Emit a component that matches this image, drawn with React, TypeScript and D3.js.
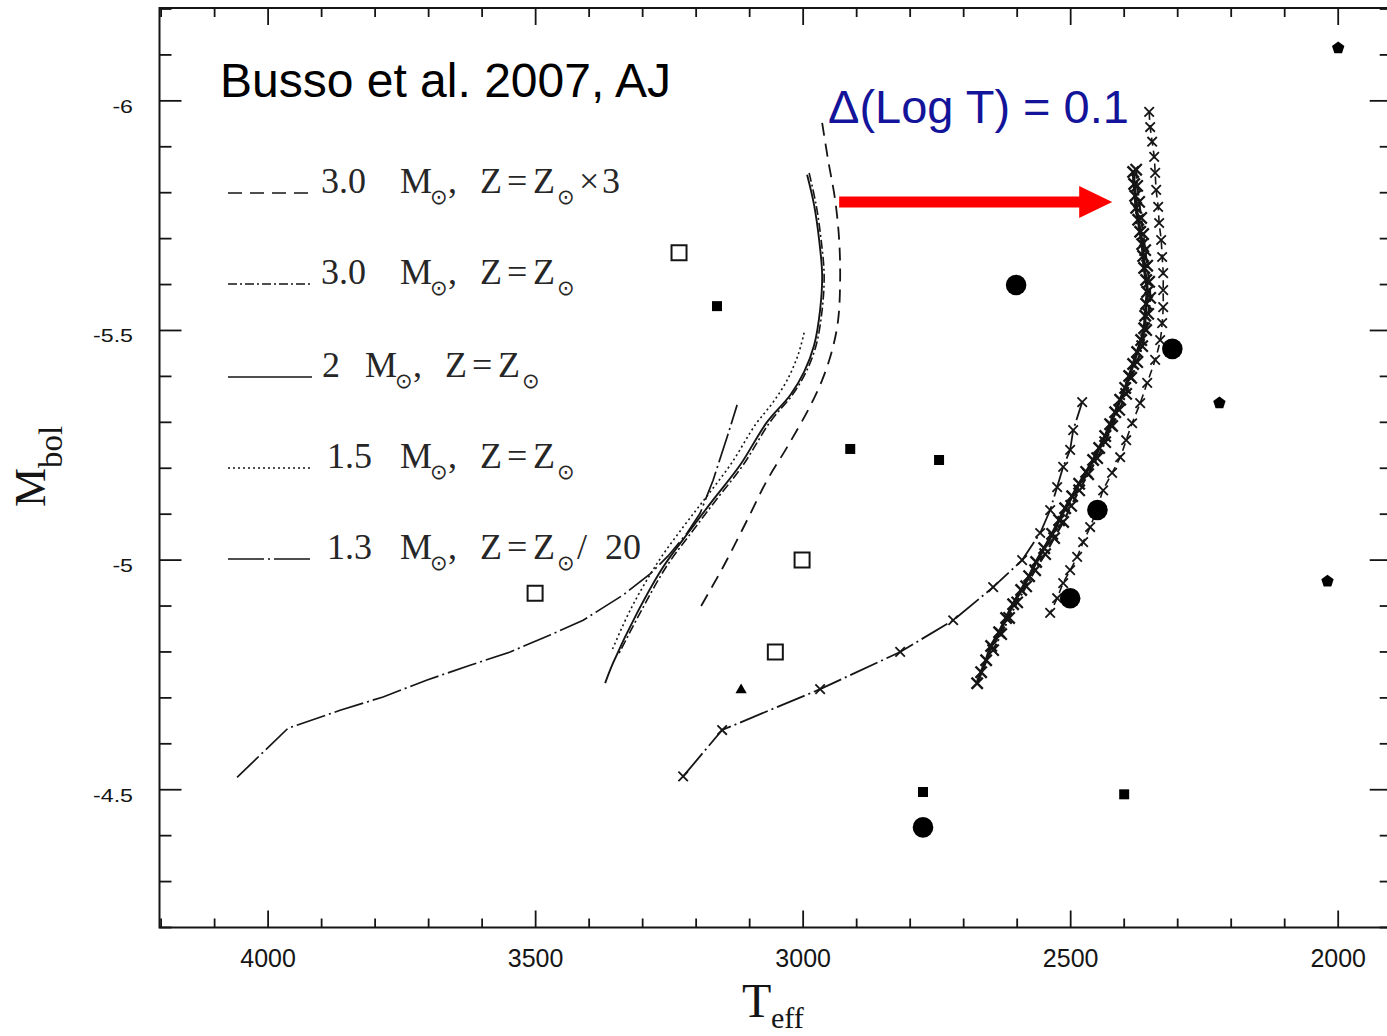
import {
  curveCatmullRom,
  curveLinear,
  curveLinearClosed,
  line,
  lineRadial,
  range,
  scaleLinear,
  symbol,
  symbolSquare,
  symbolTimes,
  symbolTriangle,
} from 'd3'

type Point = [number, number] // [Teff, Mbol]

const chartWidth = 1387
const chartHeight = 1036

// model tracks (left group)
const track3Z3: Point[] = [
  [2964.5, -5.952], [2953.3, -5.871], [2940.2, -5.784], [2932.7, -5.697], [2930.9, -5.61],
  [2934.6, -5.523], [2945.8, -5.457], [2964.5, -5.392], [2990.7, -5.327], [3029.9, -5.246],
  [3067.3, -5.174], [3104.7, -5.087], [3149.6, -4.985], [3198.2, -4.885],
]

const track3Z1: Point[] = [
  [2988.8, -5.843], [2975.7, -5.773], [2966.4, -5.697], [2960.8, -5.621], [2964.5, -5.545],
  [2975.7, -5.468], [2994.4, -5.41], [3020.6, -5.359], [3061.7, -5.301], [3112.2, -5.207],
  [3162.7, -5.131], [3205.6, -5.065], [3256.1, -4.985], [3304.7, -4.885], [3345.8, -4.793],
]

const track2Z1: Point[] = [
  [2992.6, -5.839], [2979.5, -5.773], [2970.1, -5.697], [2964.5, -5.621], [2968.3, -5.545],
  [2979.5, -5.468], [2998.2, -5.41], [3024.3, -5.359], [3067.3, -5.301], [3117.8, -5.207],
  [3168.3, -5.131], [3211.3, -5.065], [3261.7, -4.985], [3310.3, -4.885], [3355.2, -4.776],
  [3370.1, -4.732],
]

const track15Z1: Point[] = [
  [2998.2, -5.495], [3009.4, -5.447], [3029.9, -5.392], [3056.1, -5.344], [3089.8, -5.294],
  [3132.8, -5.213], [3181.3, -5.137], [3224.3, -5.072], [3272.9, -4.993], [3321.5, -4.895],
  [3357.1, -4.804],
]

const track13Z20: Point[] = [
  [4058.0, -4.527], [3962.7, -4.634], [3865.4, -4.673], [3785.1, -4.702], [3702.8, -4.739],
  [3622.5, -4.771], [3547.7, -4.8], [3472.9, -4.837], [3411.2, -4.869], [3336.5, -4.924],
  [3286.0, -4.97], [3252.4, -5.009], [3216.9, -5.059], [3192.6, -5.102], [3168.3, -5.174],
  [3142.1, -5.268], [3123.4, -5.338],
]

// shifted tracks (right group, with markers)
const shifted3Z3: Point[] = [
  [2353.3, -5.976], [2351.4, -5.943], [2347.7, -5.911], [2343.9, -5.878], [2342.1, -5.843],
  [2340.2, -5.806], [2336.5, -5.769], [2334.6, -5.734], [2330.9, -5.697], [2329.0, -5.66],
  [2327.1, -5.625], [2327.1, -5.588], [2327.1, -5.551], [2329.0, -5.516], [2332.7, -5.479],
  [2342.1, -5.436], [2357.0, -5.386], [2370.1, -5.342], [2385.1, -5.298], [2396.3, -5.261],
  [2407.5, -5.224], [2422.5, -5.19], [2439.3, -5.152], [2450.5, -5.113], [2463.6, -5.072],
  [2476.7, -5.039], [2487.9, -5.007], [2501.0, -4.978], [2514.0, -4.95], [2525.3, -4.917],
  [2538.3, -4.885],
]

const shifted2Z1: Point[] = [
  [2383.2, -5.845], [2381.3, -5.819], [2379.4, -5.793], [2377.6, -5.767], [2373.8, -5.741],
  [2370.1, -5.715], [2366.3, -5.688], [2364.5, -5.662], [2362.6, -5.636], [2358.9, -5.61],
  [2357.0, -5.584], [2358.9, -5.558], [2360.7, -5.532], [2362.6, -5.505], [2368.2, -5.479],
  [2375.7, -5.453], [2383.2, -5.427], [2390.6, -5.401], [2398.1, -5.375], [2407.5, -5.349],
  [2416.8, -5.322], [2426.2, -5.296], [2435.5, -5.27], [2446.7, -5.244], [2458.0, -5.218],
  [2471.0, -5.192], [2484.1, -5.166], [2497.2, -5.139], [2510.3, -5.113], [2521.5, -5.087],
  [2534.6, -5.057], [2549.5, -5.026], [2564.5, -4.996], [2577.6, -4.965], [2592.5, -4.935],
  [2607.5, -4.904], [2620.6, -4.874], [2633.7, -4.843], [2648.6, -4.813], [2658.0, -4.782],
  [2667.3, -4.756], [2674.8, -4.732],
]

const shifted3Z1: Point[] = [
  [2377.6, -5.85], [2375.7, -5.815], [2372.0, -5.78], [2368.2, -5.745], [2364.5, -5.71],
  [2360.7, -5.675], [2357.0, -5.641], [2353.3, -5.606], [2351.4, -5.571], [2355.1, -5.536],
  [2358.9, -5.501], [2366.3, -5.466], [2375.7, -5.431], [2386.9, -5.397], [2396.3, -5.362],
  [2409.3, -5.327], [2422.5, -5.292], [2435.5, -5.257], [2450.5, -5.222], [2467.3, -5.187],
  [2484.1, -5.152], [2499.1, -5.118], [2514.0, -5.083], [2530.9, -5.048], [2547.7, -5.013],
  [2566.4, -4.978], [2583.2, -4.943], [2600.0, -4.908], [2615.0, -4.874], [2629.9, -4.839],
  [2644.9, -4.804],
]

const shifted13Z20: Point[] = [
  [3224.3, -4.529], [3151.4, -4.63], [2968.3, -4.719], [2818.7, -4.8], [2719.6, -4.869],
  [2644.9, -4.941], [2590.7, -5.0], [2557.0, -5.059], [2538.3, -5.109], [2525.3, -5.159],
  [2514.0, -5.203], [2501.0, -5.24], [2495.3, -5.283], [2478.5, -5.344],
]

// observed stars
const openSquares: Point[] = [[3232, -5.669], [3501, -4.928], [3002, -5.0], [3052, -4.8]]
const filledSquares: Point[] = [[3161, -5.553], [2912, -5.242], [2746, -5.218], [2776, -4.495], [2400, -4.49]]
const filledCircles: Point[] = [[2602, -5.599], [2310, -5.46], [2450, -5.109], [2501, -4.917], [2776, -4.418]]
const pentagons: Point[] = [[2000, -6.115], [2222, -5.342], [2020, -4.954]]
const triangles: Point[] = [[3116, -4.717]]

const xLabelValues = [4000, 3500, 3000, 2500, 2000]
const yLabelValues = [-6, -5.5, -5, -4.5]

const arrowFrom: Point = [2932.7, -5.78]
const arrowTo: Point = [2422.4, -5.78]

const frame = { left: 159.5, right: 1391.7, top: 9, bottom: 927.5 }

const ink = '#151515'
const sansFont = '"Liberation Sans", Arial, sans-serif'
const serifFont = '"Liberation Serif", "Times New Roman", serif'
const sunFont = '"DejaVu Sans", sans-serif'

function App() {
  const xScale = scaleLinear().domain([4203, 1900]).range([frame.left, frame.right])
  const yScale = scaleLinear().domain([-6.2, -4.2]).range([frame.top, frame.bottom])

  const smoothLine = line<Point>()
    .x((d) => xScale(d[0]))
    .y((d) => yScale(d[1]))
    .curve(curveCatmullRom)
  const straightLine = line<Point>()
    .x((d) => xScale(d[0]))
    .y((d) => yScale(d[1]))
    .curve(curveLinear)

  const xTicks = xScale.ticks(25)
  const yTicks = yScale.ticks(20)
  const isMajorX = (v: number) => Math.abs(v % 500) < 1e-6
  const isMajorY = (v: number) => Math.abs(v * 2 - Math.round(v * 2)) < 1e-6

  const starPath = symbol(symbolTimes, 60)() ?? ''
  const bigStarPath = symbol(symbolTimes, 85)() ?? ''
  const openSquarePath = symbol(symbolSquare, 225)() ?? ''
  const filledSquarePath = symbol(symbolSquare, 100)() ?? ''
  const trianglePath = symbol(symbolTriangle, 55)() ?? ''
  const pentagonPath =
    lineRadial<number>()
      .angle((d) => d)
      .radius(6.5)
      .curve(curveLinearClosed)(range(5).map((i) => (i * 2 * Math.PI) / 5)) ?? ''

  const stars = (pts: Point[], key: string, path: string, sw: number) =>
    pts.map((d, i) => (
      <path
        key={`${key}-${i}`}
        d={path}
        transform={`translate(${xScale(d[0])},${yScale(d[1])})`}
        fill="none"
        stroke={ink}
        strokeWidth={sw}
      />
    ))

  const ax0 = xScale(arrowFrom[0])
  const ax1 = xScale(arrowTo[0])
  const ay = yScale(arrowFrom[1])
  const headLen = 33
  const arrowPoints = [
    [ax0, ay - 5.5],
    [ax1 - headLen, ay - 5.5],
    [ax1 - headLen, ay - 16],
    [ax1, ay],
    [ax1 - headLen, ay + 16],
    [ax1 - headLen, ay + 5.5],
    [ax0, ay + 5.5],
  ]
    .map((p) => p.join(','))
    .join(' ')

  const sun = (x: number, y: number) => (
    <tspan x={x} y={y + 11} fontFamily={sunFont} fontSize={21}>
      ⊙
    </tspan>
  )

  const legendLine = (y: number, dash: string | undefined) => (
    <line x1={228} x2={312} y1={y} y2={y} stroke={ink} strokeWidth={1.6} strokeDasharray={dash} />
  )

  return (
    <svg
      width={chartWidth}
      height={chartHeight}
      viewBox={`0 0 ${chartWidth} ${chartHeight}`}
      style={{ position: 'absolute', left: 0, top: 0, background: '#fff' }}
    >
      <rect width={chartWidth} height={chartHeight} fill="#fff" />

      {/* frame */}
      <rect
        x={frame.left}
        y={frame.top - 1}
        width={frame.right - frame.left}
        height={frame.bottom - frame.top + 1}
        fill="none"
        stroke={ink}
        strokeWidth={2}
      />

      {xTicks.map((t) => {
        const x = xScale(t)
        const len = isMajorX(t) ? 17 : 9
        return (
          <g key={`xt-${t}`} stroke={ink} strokeWidth={1.8}>
            <line x1={x} x2={x} y1={frame.bottom} y2={frame.bottom - len} />
            <line x1={x} x2={x} y1={frame.top - 1} y2={frame.top - 1 + len} />
          </g>
        )
      })}
      {yTicks.map((t) => {
        const y = yScale(t)
        const len = isMajorY(t) ? 22 : 12
        return (
          <g key={`yt-${t}`} stroke={ink} strokeWidth={1.8}>
            <line x1={frame.left} x2={frame.left + len} y1={y} y2={y} />
            <line x1={frame.right} x2={frame.right - len} y1={y} y2={y} />
          </g>
        )
      })}

      {xLabelValues.map((t) => (
        <text
          key={`xl-${t}`}
          x={xScale(t)}
          y={967}
          textAnchor="middle"
          fontFamily={sansFont}
          fontSize={25}
          fill={ink}
        >
          {t}
        </text>
      ))}
      {yLabelValues.map((t) => (
        <text
          key={`yl-${t}`}
          transform={`translate(133,${yScale(t) + 12}) scale(1.22,1)`}
          textAnchor="end"
          fontFamily={sansFont}
          fontSize={19}
          fill={ink}
        >
          {t}
        </text>
      ))}

      {/* axis titles */}
      <text x={742} y={1017} fontFamily={serifFont} fontSize={48} fill={ink}>
        T
        <tspan x={771} y={1028} fontSize={30}>
          eff
        </tspan>
      </text>
      <text
        transform="translate(45,507) rotate(-90)"
        fontFamily={serifFont}
        fontSize={44}
        fill={ink}
      >
        M
        <tspan dy={17} fontSize={33}>
          bol
        </tspan>
      </text>

      {/* left group tracks */}
      <path d={smoothLine(track3Z3) ?? ''} fill="none" stroke={ink} strokeWidth={1.8} strokeDasharray="13 8" />
      <path d={smoothLine(track3Z1) ?? ''} fill="none" stroke={ink} strokeWidth={1.6} strokeDasharray="9 3 2 3" />
      <path d={smoothLine(track2Z1) ?? ''} fill="none" stroke={ink} strokeWidth={1.9} />
      <path d={smoothLine(track15Z1) ?? ''} fill="none" stroke={ink} strokeWidth={1.6} strokeDasharray="2 3" />
      <path d={straightLine(track13Z20) ?? ''} fill="none" stroke={ink} strokeWidth={1.7} strokeDasharray="30 4 2 4" />

      {/* right group tracks */}
      <path d={smoothLine(shifted3Z3) ?? ''} fill="none" stroke={ink} strokeWidth={1.6} strokeDasharray="8 5" />
      <path d={smoothLine(shifted2Z1) ?? ''} fill="none" stroke={ink} strokeWidth={3.2} />
      <path d={smoothLine(shifted3Z1) ?? ''} fill="none" stroke={ink} strokeWidth={2.2} strokeDasharray="9 3 2 3" />
      <path d={straightLine(shifted13Z20) ?? ''} fill="none" stroke={ink} strokeWidth={1.8} strokeDasharray="30 4 2 4" />
      {stars(shifted3Z3, 's33', starPath, 1.8)}
      {stars(shifted2Z1, 's21', bigStarPath, 2.4)}
      {stars(shifted3Z1, 's31', bigStarPath, 2.2)}
      {stars(shifted13Z20, 's13', starPath, 1.8)}

      {/* observed points */}
      {openSquares.map((d, i) => (
        <path
          key={`os-${i}`}
          d={openSquarePath}
          transform={`translate(${xScale(d[0])},${yScale(d[1])})`}
          fill="#fff"
          stroke={ink}
          strokeWidth={2}
        />
      ))}
      {filledSquares.map((d, i) => (
        <path key={`fs-${i}`} d={filledSquarePath} transform={`translate(${xScale(d[0])},${yScale(d[1])})`} fill="#000" />
      ))}
      {filledCircles.map((d, i) => (
        <circle key={`fc-${i}`} cx={xScale(d[0])} cy={yScale(d[1])} r={10.3} fill="#000" />
      ))}
      {pentagons.map((d, i) => (
        <path key={`pg-${i}`} d={pentagonPath} transform={`translate(${xScale(d[0])},${yScale(d[1])})`} fill="#000" />
      ))}
      {triangles.map((d, i) => (
        <path key={`tr-${i}`} d={trianglePath} transform={`translate(${xScale(d[0])},${yScale(d[1])})`} fill="#000" />
      ))}

      {/* legend */}
      <g fontFamily={serifFont} fontSize={36} fill="#262626">
        {legendLine(193, '14 8')}
        <text>
          <tspan x={321} y={193}>3.0</tspan>
          <tspan x={400} y={193}>M</tspan>
          {sun(430, 193)}
          <tspan x={448} y={193}>,</tspan>
          <tspan x={480} y={193}>Z</tspan>
          <tspan x={507} y={193}>=</tspan>
          <tspan x={533} y={193}>Z</tspan>
          {sun(557, 193)}
          <tspan x={579} y={193}>×</tspan>
          <tspan x={602} y={193}>3</tspan>
        </text>

        {legendLine(284, '9 3 2 3')}
        <text>
          <tspan x={321} y={284}>3.0</tspan>
          <tspan x={400} y={284}>M</tspan>
          {sun(430, 284)}
          <tspan x={448} y={284}>,</tspan>
          <tspan x={480} y={284}>Z</tspan>
          <tspan x={507} y={284}>=</tspan>
          <tspan x={533} y={284}>Z</tspan>
          {sun(557, 284)}
        </text>

        {legendLine(377, undefined)}
        <text>
          <tspan x={322} y={377}>2</tspan>
          <tspan x={365} y={377}>M</tspan>
          {sun(395, 377)}
          <tspan x={413} y={377}>,</tspan>
          <tspan x={445} y={377}>Z</tspan>
          <tspan x={472} y={377}>=</tspan>
          <tspan x={498} y={377}>Z</tspan>
          {sun(522, 377)}
        </text>

        {legendLine(468, '2 3')}
        <text>
          <tspan x={327} y={468}>1.5</tspan>
          <tspan x={400} y={468}>M</tspan>
          {sun(430, 468)}
          <tspan x={448} y={468}>,</tspan>
          <tspan x={480} y={468}>Z</tspan>
          <tspan x={507} y={468}>=</tspan>
          <tspan x={533} y={468}>Z</tspan>
          {sun(557, 468)}
        </text>

        {legendLine(559, '36 4 2 4')}
        <text>
          <tspan x={327} y={559}>1.3</tspan>
          <tspan x={400} y={559}>M</tspan>
          {sun(430, 559)}
          <tspan x={448} y={559}>,</tspan>
          <tspan x={480} y={559}>Z</tspan>
          <tspan x={507} y={559}>=</tspan>
          <tspan x={533} y={559}>Z</tspan>
          {sun(557, 559)}
          <tspan x={577} y={559}>/</tspan>
          <tspan x={605} y={559}>20</tspan>
        </text>
      </g>

      {/* annotations */}
      <text x={220} y={97} fontFamily={sansFont} fontSize={48} fill="#000">
        Busso et al. 2007, AJ
      </text>
      <text x={828} y={123} fontFamily={sansFont} fontSize={47} fill="#14149a">
        Δ(Log T) = 0.1
      </text>
      <polygon points={arrowPoints} fill="#ff0000" />
    </svg>
  )
}

export default App
